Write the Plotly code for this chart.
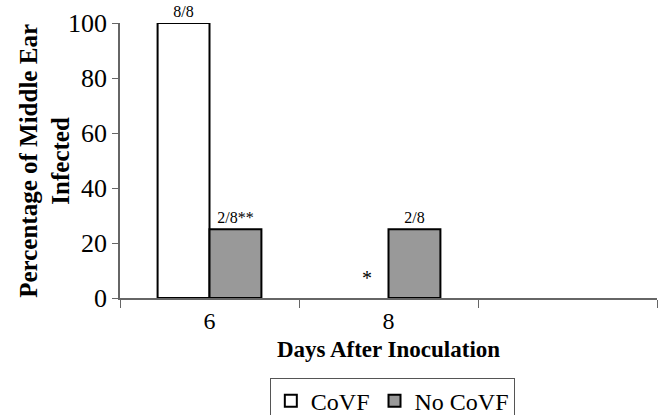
import plotly.graph_objects as go

categories = ["6", "8", " "]
covf_values = [100, 0, None]
nocovf_values = [25, 25, None]
covf_labels = ["8/8", "", ""]
nocovf_labels = ["2/8**", "2/8", ""]
y_ticks = [0, 20, 40, 60, 80, 100]

serif = "Liberation Serif, Times New Roman, serif"

fig = go.Figure()
fig.add_trace(go.Bar(
    name="CoVF", x=categories, y=covf_values, text=covf_labels,
    textposition="outside", textfont=dict(family=serif, size=16, color="black"),
    marker=dict(color="white", line=dict(color="black", width=[2, 0, 2])),
    cliponaxis=False,
))
fig.add_trace(go.Bar(
    name="No CoVF", x=categories, y=nocovf_values, text=nocovf_labels,
    textposition="outside", textfont=dict(family=serif, size=16, color="black"),
    marker=dict(color="#999999", line=dict(color="black", width=2)),
    cliponaxis=False,
))

fig.add_annotation(x=categories.index("8"), y=0, xref="x", yref="y", text="*", showarrow=False,
                   xshift=-22, yshift=20, font=dict(family=serif, size=20, color="black"))

fig.add_annotation(x=-0.141, y=0.5, xref="paper", yref="paper", xanchor="center", yanchor="middle",
                   text="<b>Percentage of Middle Ear<br>Infected</b>", textangle=-90, showarrow=False,
                   font=dict(family=serif, size=25, color="black"))

fig.update_layout(
    width=663, height=415,
    margin=dict(l=120, r=6, t=23, b=117, autoexpand=False),
    paper_bgcolor="white", plot_bgcolor="white",
    barmode="group", bargap=0.42, bargroupgap=0,
    font=dict(family=serif, color="black"),
    showlegend=True,
    legend=dict(
        orientation="h", x=0.279, y=-0.29, xanchor="left", yanchor="top",
        font=dict(family=serif, size=24, color="black"),
        bordercolor="#555555", borderwidth=1, bgcolor="white",
        itemwidth=30,
    ),
    xaxis=dict(
        type="category", categoryorder="array", categoryarray=categories,
        range=[-0.5, 2.5], showline=True, linecolor="#666666", linewidth=1.5,
        ticks="outside", tickson="boundaries", ticklen=8, tickcolor="#666666",
        tickfont=dict(family=serif, size=24, color="black"),
        showgrid=False, zeroline=False, automargin=False, layer="above traces",
        title=dict(text="<b>Days After Inoculation</b>", font=dict(family=serif, size=23, color="black"), standoff=8),
    ),
    yaxis=dict(
        range=[0, 100], tickvals=y_ticks, showline=True, linecolor="#666666", linewidth=1.5,
        ticks="outside", ticklen=6, tickcolor="#666666",
        tickfont=dict(family=serif, size=26, color="black"),
        showgrid=False, zeroline=False, automargin=False, layer="above traces",
    ),
)

fig.write_html("out.html", config={"displayModeBar": False},
               post_script="document.body.style.margin='0';document.body.style.overflow='hidden';")
